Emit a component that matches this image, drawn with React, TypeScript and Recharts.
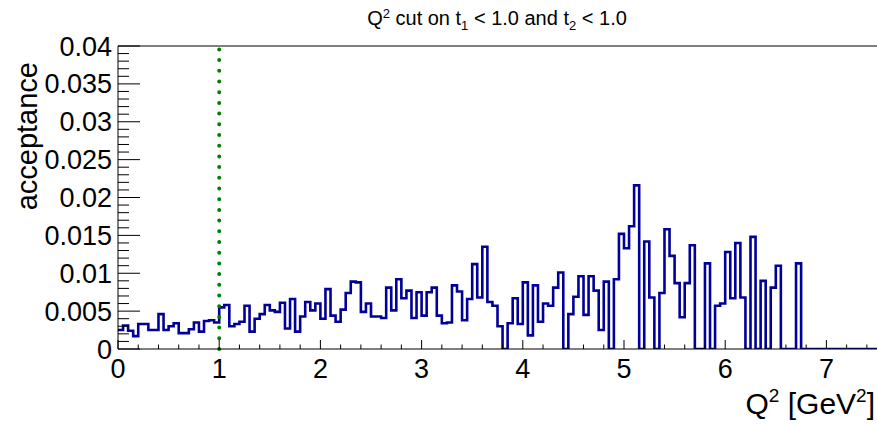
import React from "react";
import { LineChart, Line, XAxis, YAxis, ReferenceLine } from "recharts";

// Acceptance vs Q^2, 150 bins of 0.05 GeV^2 between 0 and 7.5
const Q2_MIN = 0;
const Q2_MAX = 7.5;
const BIN_WIDTH = 0.05;
const Q2_CUT = 1.0;

const accQ2_000_150 = [
  0.0025, 0.0031, 0.0024, 0.0017, 0.0033, 0.0033, 0.0025, 0.0025, 0.0046, 0.0025,
  0.003, 0.0034, 0.0021, 0.0021, 0.0026, 0.0035, 0.0023, 0.0037, 0.0038, 0.0035,
  0.0055, 0.0058, 0.003, 0.0033, 0.0036, 0.0057, 0.0023, 0.004, 0.0046, 0.0058,
];
const accQ2_150_300 = [
  0.0051, 0.0049, 0.0061, 0.0027, 0.0066, 0.0023, 0.0043, 0.0062, 0.0051, 0.006,
  0.004, 0.0079, 0.0044, 0.0036, 0.0052, 0.0074, 0.0089, 0.0088, 0.0049, 0.006,
  0.0043, 0.0043, 0.0041, 0.0081, 0.0051, 0.0092, 0.0067, 0.0077, 0.0041, 0.0075,
];
const accQ2_300_450 = [
  0.0044, 0.0075, 0.0081, 0.0044, 0.0034, 0.0035, 0.0084, 0.0076, 0.0038, 0.0066,
  0.0112, 0.0068, 0.0135, 0.0062, 0.0057, 0.003, 0, 0.0034, 0.0067, 0.0033,
  0.0088, 0.0018, 0.0084, 0.0036, 0.006, 0.0057, 0.0081, 0.0101, 0, 0.0046,
];
const accQ2_450_600 = [
  0.0069, 0.0096, 0.0045, 0.0096, 0.0077, 0.0025, 0.0089, 0, 0.0092, 0.0152,
  0.0133, 0.0162, 0.0216, 0, 0.0142, 0.0068, 0, 0.0074, 0.0158, 0.0123,
  0.0087, 0.0042, 0.0087, 0.0137, 0, 0, 0.0113, 0, 0.0057, 0.006,
];
const accQ2_600_750 = [
  0.0128, 0.0067, 0.014, 0.0068, 0, 0.0148, 0, 0.009, 0, 0.0081,
  0.011, 0, 0, 0, 0.0113, 0, 0, 0, 0, 0,
  0, 0, 0, 0, 0, 0, 0, 0, 0, 0,
];

const xMajorTicks = [0, 1, 2, 3, 4, 5, 6, 7];
const yMajorTicks = [0, 0.005, 0.01, 0.015, 0.02, 0.025, 0.03, 0.035, 0.04];
const X_MINOR_STEP = 0.2;
const Y_MINOR_STEP = 0.001;

const acceptance = [
  ...accQ2_000_150,
  ...accQ2_150_300,
  ...accQ2_300_450,
  ...accQ2_450_600,
  ...accQ2_600_750,
];

// bin low edges, plus the closing edge so the last step is drawn
const histo = [
  ...acceptance.map((v, i) => ({ q2: +(Q2_MIN + i * BIN_WIDTH).toFixed(3), acc: v })),
  { q2: Q2_MAX, acc: acceptance[acceptance.length - 1] },
];

const xTicks = Array.from({ length: Math.round(Q2_MAX / X_MINOR_STEP) }, (_, i) =>
  +(i * X_MINOR_STEP).toFixed(2)
);
const yTicks = Array.from({ length: 41 }, (_, i) => +(i * Y_MINOR_STEP).toFixed(3));

const FONT = "'Liberation Sans', Arial, Helvetica, sans-serif";

function XTick({ x, y, payload }: any) {
  const v = payload.value as number;
  const major = xMajorTicks.some((t) => Math.abs(t - v) < 1e-6);
  return (
    <g>
      <line x1={x} x2={x} y1={y} y2={y - (major ? 9 : 4.5)} stroke="#000" strokeWidth={1} />
      {major && (
        <text x={x} y={y + 29} textAnchor="middle" fontSize={27} fontFamily={FONT} fill="#000">
          {v}
        </text>
      )}
    </g>
  );
}

function YTick({ x, y, payload }: any) {
  const v = payload.value as number;
  const major = yMajorTicks.some((t) => Math.abs(t - v) < 1e-7);
  return (
    <g>
      <line x1={x} x2={x + (major ? 22 : 11)} y1={y} y2={y} stroke="#000" strokeWidth={1} />
      {major && (
        <text x={x - 6} y={y + 9.5} textAnchor="end" fontSize={27} fontFamily={FONT} fill="#000">
          {String(+v.toFixed(3))}
        </text>
      )}
    </g>
  );
}

export default function App() {
  return (
    <div style={{ position: "absolute", left: 0, top: 0, width: 877, height: 425, background: "#fff" }}>
      <LineChart
        width={877}
        height={425}
        data={histo}
        margin={{ top: 46, right: 0, bottom: 0, left: 0 }}
      >
        <XAxis
          dataKey="q2"
          type="number"
          domain={[Q2_MIN, Q2_MAX]}
          ticks={xTicks}
          interval={0}
          height={76}
          tickSize={0}
          tickMargin={0}
          tickLine={false}
          tick={<XTick />}
          axisLine={{ stroke: "#000", strokeWidth: 1 }}
          allowDataOverflow
        />
        <YAxis
          type="number"
          domain={[0, 0.04]}
          ticks={yTicks}
          interval={0}
          width={118}
          tickSize={0}
          tickMargin={0}
          tickLine={false}
          tick={<YTick />}
          axisLine={{ stroke: "#000", strokeWidth: 1 }}
          allowDataOverflow
        />
        <ReferenceLine y={0.04} stroke="#000" strokeWidth={1} />
        <Line
          type="stepAfter"
          dataKey="acc"
          stroke="#000099"
          strokeWidth={2.6}
          dot={false}
          activeDot={false}
          isAnimationActive={false}
        />
        <ReferenceLine
          x={Q2_CUT}
          stroke="#007f00"
          strokeWidth={4}
          strokeDasharray="0 10.7"
          strokeLinecap="round"
        />
        <text x={497} y={25} textAnchor="middle" fontSize={20} fontFamily={FONT} fill="#000">
          Q<tspan dy={-7} fontSize={13}>2</tspan>
          <tspan dy={7}> cut on t</tspan>
          <tspan dy={5} fontSize={13}>1</tspan>
          <tspan dy={-5}> &lt; 1.0 and t</tspan>
          <tspan dy={5} fontSize={13}>2</tspan>
          <tspan dy={-5}> &lt; 1.0</tspan>
        </text>
        <text
          x={37}
          y={62}
          transform="rotate(-90, 37, 62)"
          textAnchor="end"
          fontSize={29}
          fontFamily={FONT}
          fill="#000"
        >
          acceptance
        </text>
        <text x={875} y={414} textAnchor="end" fontSize={30} fontFamily={FONT} fill="#000">
          Q<tspan dy={-12} fontSize={19}>2</tspan>
          <tspan dy={12}> [GeV</tspan>
          <tspan dy={-12} fontSize={19}>2</tspan>
          <tspan dy={12}>]</tspan>
        </text>
      </LineChart>
    </div>
  );
}
